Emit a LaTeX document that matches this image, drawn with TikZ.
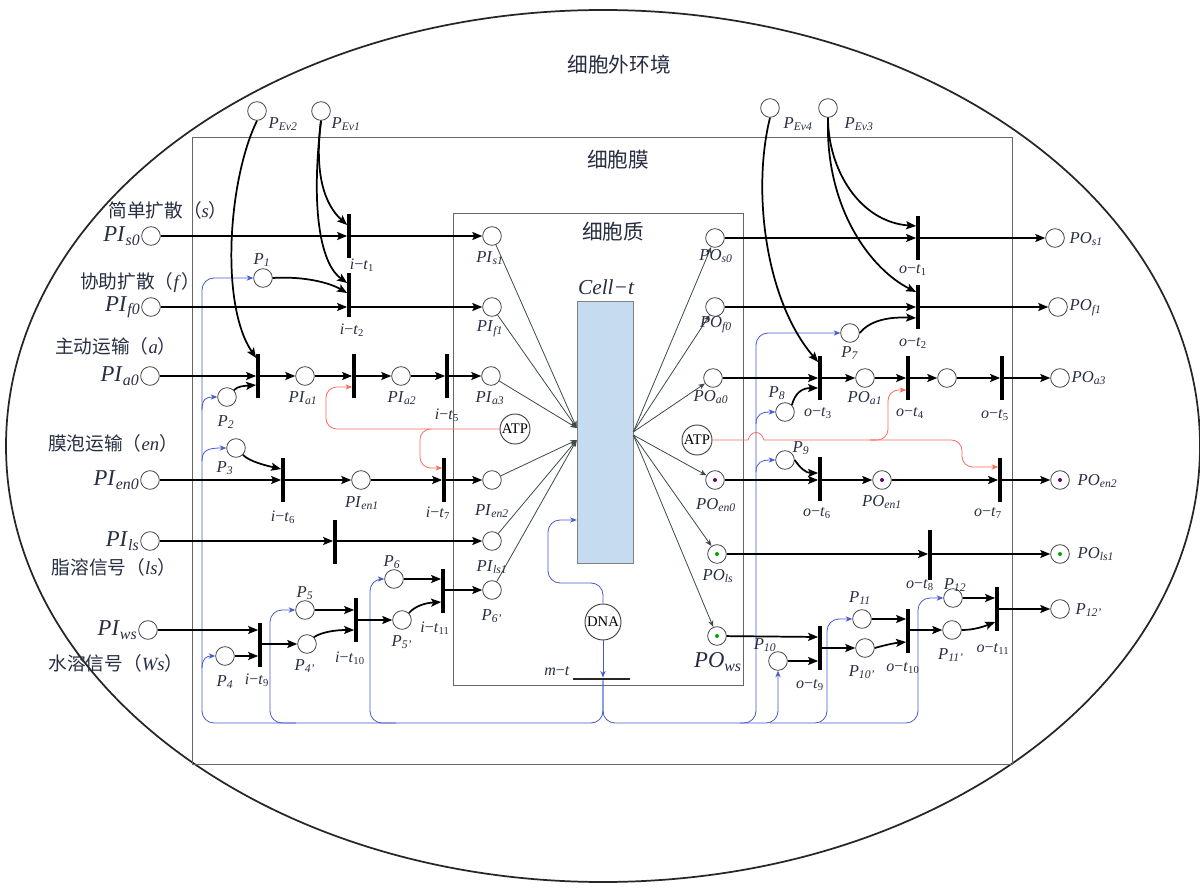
\documentclass[tikz,border=0pt]{standalone}
\usepackage{fontspec}
\setmainfont{Liberation Serif}
\newfontfamily\cjk{Noto Sans CJK SC}
\usetikzlibrary{arrows.meta,calc}
\definecolor{txt}{RGB}{40,46,66}
\definecolor{blc}{RGB}{70,90,205}
\definecolor{rdc}{RGB}{250,110,90}
\definecolor{thinc}{RGB}{60,75,70}
\definecolor{cellfill}{RGB}{197,220,240}
\newcommand{\lb}[2]{\textit{#1}\textsubscript{\textit{#2}}}
\newcommand{\tlb}[2]{\textit{#1}−\textit{t}\textsubscript{#2}}
\newcommand{\cn}[2]{{\cjk #1（}\textit{#2}{\cjk ）}}
\begin{document}
\begin{tikzpicture}[x=0.75pt,y=-0.75pt,
  pl/.style={circle,draw=black!75,line width=0.6pt,minimum size=14pt,inner sep=0pt,fill=white},
  tokp/.style={pl,path picture={\fill[violet!80!black] (path picture bounding box.center) circle (1.5pt);}},
  tokg/.style={pl,path picture={\fill[green!65!black] (path picture bounding box.center) circle (1.5pt);}},
  tr/.style={rectangle,fill=black,minimum width=2.4pt,minimum height=33.5pt,inner sep=0pt},
  ar/.style={line width=1.3pt,-{Stealth[length=7.5pt,width=6pt,inset=1.5pt]}},
  tn/.style={thinc,line width=0.6pt,-{Stealth[length=5pt,width=4pt]}},
  bla/.style={blc,line width=0.6pt,rounded corners=9pt,-{Stealth[length=5pt,width=4pt]}},
  bll/.style={blc,line width=0.6pt,rounded corners=9pt},
  rda/.style={rdc,line width=0.6pt,rounded corners=8pt,-{Stealth[length=5pt,width=4pt]}},
  lab/.style={text=txt,font=\fontsize{12.5}{12.5}\selectfont,inner sep=1pt},
  big/.style={text=txt,font=\fontsize{17}{17}\selectfont,inner sep=1pt},
  cnl/.style={text=txt,font=\fontsize{14}{14}\selectfont,inner sep=0pt},
  reg/.style={text=txt,font=\cjk\fontsize{15.5}{15.5}\selectfont,inner sep=0pt},
  tlab/.style={text=txt,font=\fontsize{12}{12}\selectfont,inner sep=1pt},
  circ/.style={circle,draw=black!75,line width=0.7pt,inner sep=0pt,fill=white,font=\fontsize{11}{11}\selectfont}]
\useasboundingbox (0,0) rectangle (1200,891);
\fill[white] (0,0) rectangle (1200,891);
% regions
\draw[line width=1.3pt,black!85] (603,446) ellipse [x radius=447.75pt, y radius=327pt];
\draw[line width=0.7pt,black!60] (192,137) rectangle (1012,764);
\draw[line width=0.7pt,black!60] (453,213) rectangle (743,685);
\node[reg] (env) at (619,65) {细胞外环境};
\node[reg] (mem) at (618,160) {细胞膜};
\node[reg] (cyt) at (613,232) {细胞质};
% cell
\node[draw=black!50,fill=cellfill,minimum width=42pt,minimum height=196.5pt,inner sep=0pt] (cell) at (605,432) {};
\node[text=txt,font=\fontsize{16}{16}\selectfont\itshape,inner sep=0pt] (celllab) at (606,287) {Cell−t};
\node[circ,minimum size=22.5pt] (ATPL) at (515,429) {ATP};
\node[circ,minimum size=22.5pt] (ATPR) at (697,440) {ATP};
\node[circ,minimum size=27pt] (DNA) at (603,622) {DNA};
\node[rectangle,fill=black!85,minimum width=42.75pt,minimum height=1.8pt,inner sep=0pt] (mt) at (601.5,679) {};
\node[tlab,anchor=east] (lmt) at (572,672) {\tlb{m}{}};
% places left
\node[pl] (PIs0) at (151,236) {};
\node[pl] (PIf0) at (151,307) {};
\node[pl] (PIa0) at (150,376) {};
\node[pl] (PIen0) at (150,480) {};
\node[pl] (PIls) at (150,541) {};
\node[pl] (PIws) at (148,630) {};
\node[pl] (PEv2) at (257,111) {};
\node[pl] (PEv1) at (321,111) {};
\node[pl] (PEv4) at (770,108) {};
\node[pl] (PEv3) at (828,108) {};
\node[pl] (P1) at (263,278) {};
\node[pl] (P2) at (227,397) {};
\node[pl] (P3) at (236,448) {};
\node[pl] (PIa1) at (305,376) {};
\node[pl] (PIa2) at (401,376) {};
\node[pl] (PIen1) at (361,480) {};
\node[pl] (P4) at (225,656) {};
\node[pl] (P4p) at (307,644) {};
\node[pl] (P5) at (305,610) {};
\node[pl] (P5p) at (402,620) {};
\node[pl] (P6) at (394,579) {};
% places inner
\node[pl] (PIs1) at (492,236) {};
\node[pl] (PIf1) at (492,307) {};
\node[pl] (PIa3) at (491,376) {};
\node[pl] (PIen2) at (492,480) {};
\node[pl] (PIls1) at (492,541) {};
\node[pl] (P6p) at (492,590) {};
\node[pl] (POs0) at (715,238) {};
\node[pl] (POf0) at (715,307) {};
\node[pl] (POa0) at (713,378) {};
\node[tokp] (POen0) at (715,480) {};
\node[tokg] (POls) at (717,554) {};
\node[tokg] (POws) at (717,636) {};
% places right
\node[pl] (P7) at (850,333) {};
\node[pl] (P8) at (785,412) {};
\node[pl] (P9) at (785,460) {};
\node[pl] (POa1) at (865,378) {};
\node[pl] (Pa2r) at (947,378) {};
\node[tokp] (POen1) at (882,480) {};
\node[pl] (POs1) at (1055,238) {};
\node[pl] (POf1) at (1058,307) {};
\node[pl] (POa3) at (1060,378) {};
\node[tokp] (POen2) at (1060,480) {};
\node[tokg] (POls1) at (1060,554) {};
\node[pl] (P10) at (778,661) {};
\node[pl] (P10p) at (865,648) {};
\node[pl] (P11) at (862,619) {};
\node[pl] (P11p) at (952,630) {};
\node[pl] (P12) at (953,598) {};
\node[pl] (P12p) at (1060,609) {};
% transitions
\node[tr] (it1) at (349,236) {};
\node[tr] (it2) at (349,295) {};
\node[tr] (t3) at (258,376) {};
\node[tr] (t4) at (354,376) {};
\node[tr] (it5) at (447,376) {};
\node[tr] (it6) at (283,480) {};
\node[tr] (it7) at (444,480) {};
\node[tr] (tls) at (335,542) {};
\node[tr] (it9) at (260,645) {};
\node[tr] (it10) at (356,620) {};
\node[tr] (it11) at (443,591) {};
\node[tr] (ot1) at (918,238) {};
\node[tr] (ot2) at (918,307) {};
\node[tr] (ot3) at (820,378) {};
\node[tr] (ot4) at (908,378) {};
\node[tr] (ot5) at (1002,378) {};
\node[tr] (ot6) at (820,479) {};
\node[tr] (ot7) at (1000,480) {};
\node[tr,minimum height=37pt] (ot8) at (930,555) {};
\node[tr] (ot9) at (820,648) {};
\node[tr] (ot10) at (908,631) {};
\node[tr] (ot11) at (997,609) {};
% blue control lines
\draw[bla] (DNA |- mt.south) -- (603,723) -- (202,723) -- (202,278) -- (P1);
\draw[bla] (DNA |- mt.south) -- (603,723) -- (756,723) -- (756,333) -- (P7);
\draw[bla] (202,410) .. controls (202,399) and (206,397) .. (P2);
\draw[bla] (202,461) .. controls (202,450) and (208,448) .. (P3);
\draw[bla] (202,668) .. controls (202,658) and (207,656) .. (P4);
\draw[bla] (296,723) -- (270,723) -- (270,610) -- (P5);
\draw[bla] (396,723) -- (370,723) -- (370,579) -- (P6);
\draw[bla] (756,424) .. controls (756,414) and (762,412) .. (P8);
\draw[bla] (756,472) .. controls (756,462) and (762,460) .. (P9);
\draw[bla] (740,723) -- (778,723) -- (P10);
\draw[bla] (770,723) -- (827,723) -- (827,619) -- (P11);
\draw[bla] (820,723) -- (918,723) -- (918,598) -- (P12);
\coordinate (dk) at (548,520);
\draw[bla] (DNA.north) -- (603,583) -- (548,583) -- (dk) -- (cell.west |- dk);
\draw[bla] (DNA.south) -- (DNA |- mt.north);
% red ATP lines
\draw[rda] (ATPL.west) -- (326,429) -- (326,387) -- ($(t4.west)+(0,11)$);
\draw[rda] (430,429) -- (420,429) -- (420,468) -- ($(it7.west)+(0,-12)$);
\draw[rdc,line width=0.6pt] (ATPR.east) -- (748,440) .. controls (751,430) and (761,430) .. (764,440) -- (876,440);
\draw[rda] (870,440) -- (888,440) -- (888,390) -- ($(ot4.west)+(0,12)$);
\draw[rda] (870,440) -- (962,440) -- (962,467) -- ($(ot7.west)+(0,-13)$);
% thin lines to / from Cell-t
\foreach \n in {PIs1,PIf1,PIa3} \draw[tn] (\n) -- ($(cell.west)+(0,-4)$);
\foreach \n in {PIen2,PIls1,P6p} \draw[tn] (\n) -- ($(cell.west)+(0,8)$);
\foreach \n in {POs0,POf0,POa0} \draw[tn] (cell.east) -- (\n);
\foreach \n in {POen0,POls,POws} \draw[tn] ($(cell.east)+(0,3)$) -- (\n);
% left arcs
\draw[ar] (PIs0) -- (PIs0 -| it1.west);
\draw[ar] (it1) -- (PIs1);
\draw[ar] (PEv1.south) .. controls (314,175) and (325,205) .. ($(it1.west)+(0,-11)$);
\draw[ar] (PEv1.south) .. controls (310,215) and (322,265) .. ($(it2.west)+(0,-12)$);
\draw[ar] (PIf0) -- (PIf0 -| it2.west);
\draw[ar] (it2.east |- PIf1) -- (PIf1);
\draw[ar] (P1.east) .. controls (305,276) and (330,283) .. ($(it2.west)+(0,-2)$);
\draw[ar] (PEv2.south) .. controls (228,180) and (220,305) .. ($(t3.west)+(0,-18)$);
\draw[ar] (P2.north east) .. controls (238,386) and (244,386) .. ($(t3.west)+(0,9)$);
\draw[ar] (PIa0) -- (PIa0 -| t3.west);
\draw[ar] (t3) -- (PIa1);
\draw[ar] (PIa1) -- (t4);
\draw[ar] (t4) -- (PIa2);
\draw[ar] (PIa2) -- (it5);
\draw[ar] (it5) -- (PIa3);
\draw[ar] (P3.south east) .. controls (250,462) and (268,466) .. ($(it6.west)+(0,-11)$);
\draw[ar] (PIen0) -- (PIen0 -| it6.west);
\draw[ar] (it6) -- (PIen1);
\draw[ar] (PIen1) -- (it7);
\draw[ar] (it7) -- (PIen2);
\draw[ar] (PIls) -- (PIls -| tls.west);
\draw[ar] (tls.east |- PIls1) -- (PIls1);
\draw[ar] (PIws) -- (PIws -| it9.west);
\draw[ar] (P4) -- (P4 -| it9.west);
\draw[ar] (it9.east |- P4p) -- (P4p);
\draw[ar] (P5) -- (P5 -| it10.west);
\draw[ar] (P4p.north east) .. controls (322,632) and (335,630) .. ($(it10.west)+(0,10)$);
\draw[ar] (it10) -- (P5p);
\draw[ar] (P6) -- (P6 -| it11.west);
\draw[ar] (P5p.north east) .. controls (415,606) and (425,603) .. ($(it11.west)+(0,11)$);
\draw[ar] (it11.east |- P6p) -- (P6p);
% right arcs
\draw[ar] (POs0) -- (POs0 -| ot1.west);
\draw[ar] (ot1) -- (POs1);
\draw[ar] (PEv3.south) .. controls (828,170) and (860,222) .. ($(ot1.west)+(0,-12)$);
\draw[ar] (PEv3.south) .. controls (825,210) and (872,270) .. ($(ot2.west)+(0,-15)$);
\draw[ar] (POf0) -- (POf0 -| ot2.west);
\draw[ar] (ot2) -- (POf1);
\draw[ar] (P7.east) .. controls (872,318) and (895,317) .. ($(ot2.west)+(0,11)$);
\draw[ar] (PEv4.south) .. controls (752,190) and (765,300) .. ($(ot3.west)+(0,-16)$);
\draw[ar] (POa0) -- (POa0 -| ot3.west);
\draw[ar] (P8.north east) .. controls (795,393) and (802,388) .. ($(ot3.west)+(0,10)$);
\draw[ar] (ot3) -- (POa1);
\draw[ar] (POa1) -- (ot4);
\draw[ar] (ot4) -- (Pa2r);
\draw[ar] (Pa2r) -- (ot5);
\draw[ar] (ot5) -- (POa3);
\draw[ar] (POen0) -- (POen0 -| ot6.west);
\draw[ar] (P9.east) .. controls (800,468) and (806,473) .. ($(ot6.west)+(0,-6)$);
\draw[ar] (ot6.east |- POen1) -- (POen1);
\draw[ar] (POen1) -- (ot7);
\draw[ar] (ot7) -- (POen2);
\draw[ar] (POls) -- (POls -| ot8.west);
\draw[ar] (ot8.east |- POls1) -- (POls1);
\draw[ar] (POws) -- ($(ot9.west)+(0,-11)$);
\draw[ar] (P10) -- (P10 -| ot9.west);
\draw[ar] (ot9) -- (P10p);
\draw[ar] (P11) -- (P11 -| ot10.west);
\draw[ar] (P10p.east) .. controls (885,645) and (895,643) .. ($(ot10.west)+(0,11)$);
\draw[ar] (ot10.east |- P11p) -- (P11p);
\draw[ar] (P12) -- (P12 -| ot11.west);
\draw[ar] (P11p.east) .. controls (975,630) and (985,626) .. ($(ot11.west)+(0,13)$);
\draw[ar] (ot11) -- (P12p);
% Chinese category labels
\node[cnl] (cS) at (168,210) {\cn{简单扩散}{s}};
\node[cnl] (cF) at (140,282) {\cn{协助扩散}{f}};
\node[cnl] (cA) at (116,346) {\cn{主动运输}{a}};
\node[cnl] (cE) at (113,443) {\cn{膜泡运输}{en}};
\node[cnl] (cL) at (114,567) {\cn{脂溶信号}{ls}};
\node[cnl] (cW) at (116,663) {\cn{水溶信号}{Ws}};
% big input labels
\node[big,anchor=east] (lPIs0) at (142,236) {\lb{PI}{s0}};
\node[big,anchor=east] (lPIf0) at (142,307) {\lb{PI}{f0}};
\node[big,anchor=east] (lPIa0) at (141,376) {\lb{PI}{a0}};
\node[big,anchor=east] (lPIen0) at (141,480) {\lb{PI}{en0}};
\node[big,anchor=east] (lPIls) at (141,541) {\lb{PI}{ls}};
\node[big,anchor=east] (lPIws) at (139,630) {\lb{PI}{ws}};
% event places labels
\node[lab,anchor=west] (lEv2) at (267,124) {\lb{P}{Ev2}};
\node[lab,anchor=west] (lEv1) at (330,124) {\lb{P}{Ev1}};
\node[lab,anchor=west] (lEv4) at (782,124) {\lb{P}{Ev4}};
\node[lab,anchor=west] (lEv3) at (843,124) {\lb{P}{Ev3}};
% place labels left
\node[lab] (lP1) at (262,260) {\lb{P}{1}};
\node[lab] (lP2) at (226,422) {\lb{P}{2}};
\node[lab] (lP3) at (225,468) {\lb{P}{3}};
\node[lab] (lP4) at (225,682) {\lb{P}{4}};
\node[lab] (lP4p) at (305,666) {\lb{P}{4'}};
\node[lab] (lP5) at (305,593) {\lb{P}{5}};
\node[lab] (lP5p) at (402,642) {\lb{P}{5'}};
\node[lab] (lP6) at (392,562) {\lb{P}{6}};
\node[lab] (lPIa1) at (303,398) {\lb{PI}{a1}};
\node[lab] (lPIa2) at (402,398) {\lb{PI}{a2}};
\node[lab] (lPIen1) at (362,503) {\lb{PI}{en1}};
\node[lab] (lPIs1) at (490,258) {\lb{PI}{s1}};
\node[lab] (lPIf1) at (490,329) {\lb{PI}{f1}};
\node[lab] (lPIa3) at (490,398) {\lb{PI}{a3}};
\node[lab] (lPIen2) at (492,511) {\lb{PI}{en2}};
\node[lab] (lPIls1) at (492,567) {\lb{PI}{ls1}};
\node[lab] (lP6p) at (492,616) {\lb{P}{6'}};
% place labels right
\node[lab] (lPOs0) at (716,256) {\lb{PO}{s0}};
\node[lab] (lPOf0) at (716,325) {\lb{PO}{f0}};
\node[lab] (lPOa0) at (711,397) {\lb{PO}{a0}};
\node[lab] (lPOen0) at (716,505) {\lb{PO}{en0}};
\node[lab] (lPOls) at (718,576) {\lb{PO}{ls}};
\node[big] (lPOws) at (718,662) {\lb{PO}{ws}};
\node[lab] (lP7) at (850,353) {\lb{P}{7}};
\node[lab] (lP8) at (777,393) {\lb{P}{8}};
\node[lab] (lP9) at (801,448) {\lb{P}{9}};
\node[lab] (lPOa1) at (865,398) {\lb{PO}{a1}};
\node[lab] (lPOen1) at (882,502) {\lb{PO}{en1}};
\node[lab] (lP10) at (765,645) {\lb{P}{10}};
\node[lab] (lP10p) at (862,672) {\lb{P}{10'}};
\node[lab] (lP11) at (860,598) {\lb{P}{11}};
\node[lab] (lP11p) at (951,655) {\lb{P}{11'}};
\node[lab] (lP12) at (955,585) {\lb{P}{12}};
\node[lab,anchor=west] (lPOs1) at (1068,239) {\lb{PO}{s1}};
\node[lab,anchor=west] (lPOf1) at (1068,308) {\lb{PO}{f1}};
\node[lab,anchor=west] (lPOa3) at (1070,378) {\lb{PO}{a3}};
\node[lab,anchor=west] (lPOen2) at (1076,481) {\lb{PO}{en2}};
\node[lab,anchor=west] (lPOls1) at (1076,554) {\lb{PO}{ls1}};
\node[lab,anchor=west] (lP12p) at (1074,610) {\lb{P}{12'}};
% transition labels
\node[tlab] (lit1) at (362,265) {\tlb{i}{1}};
\node[tlab] (lit2) at (352,330) {\tlb{i}{2}};
\node[tlab] (lit5) at (447,415) {\tlb{i}{5}};
\node[tlab] (lit6) at (283,517) {\tlb{i}{6}};
\node[tlab] (lit7) at (438,513) {\tlb{i}{7}};
\node[tlab] (lit9) at (257,680) {\tlb{i}{9}};
\node[tlab] (lit10) at (350,658) {\tlb{i}{10}};
\node[tlab] (lit11) at (435,628) {\tlb{i}{11}};
\node[tlab] (lot1) at (913,270) {\tlb{o}{1}};
\node[tlab] (lot2) at (913,343) {\tlb{o}{2}};
\node[tlab] (lot3) at (818,413) {\tlb{o}{3}};
\node[tlab] (lot4) at (910,413) {\tlb{o}{4}};
\node[tlab] (lot5) at (995,415) {\tlb{o}{5}};
\node[tlab] (lot6) at (817,513) {\tlb{o}{6}};
\node[tlab] (lot7) at (988,513) {\tlb{o}{7}};
\node[tlab] (lot8) at (920,585) {\tlb{o}{8}};
\node[tlab] (lot9) at (810,685) {\tlb{o}{9}};
\node[tlab] (lot10) at (903,668) {\tlb{o}{10}};
\node[tlab] (lot11) at (993,649) {\tlb{o}{11}};
\end{tikzpicture}
\end{document}
